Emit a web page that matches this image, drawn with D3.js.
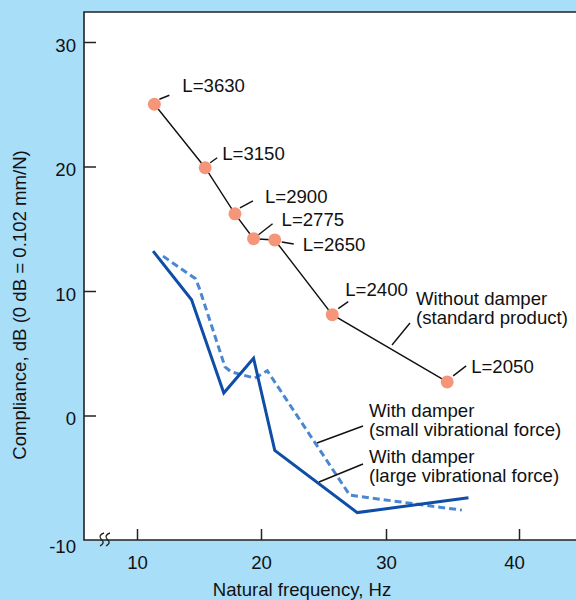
<!DOCTYPE html>
<html>
<head>
<meta charset="utf-8">
<script src="https://cdn.jsdelivr.net/npm/d3@7"></script>
<style>
  body { margin: 0; }
  svg { display: block; font-family: "Liberation Sans", Arial, sans-serif; }
</style>
</head>
<body>
<svg id="chart" width="576" height="600"></svg>
<script>
// data
const xTicks = [10, 20, 30, 40];
const yTicks = [-10, 0, 10, 20, 30];

const lengthLabels = ["L=3630", "L=3150", "L=2900", "L=2775", "L=2650", "L=2400", "L=2050"];
const freqStandard = [11.4, 15.5, 17.9, 19.4, 21.1, 25.7, 34.6];
const compStandard = [25.0, 19.9, 16.2, 14.2, 14.1, 8.1, 2.7];

const freqSmall = [12.1, 14.7, 15.0, 17.1, 17.6, 19.5, 20.5, 27.1, 35.7];
const compSmall = [12.8, 11.0, 10.3, 3.9, 3.5, 3.0, 3.6, -6.4, -7.6];

const freqLarge = [11.3, 14.4, 17.0, 19.4, 21.1, 27.7, 36.2];
const compLarge = [13.2, 9.3, 1.8, 4.6, -2.8, -7.8, -6.6];

// label placement (pixel offsets from each dot): leader start, leader end, text
const labelOffsets = [
  [5, -5, 15, -9, 28, -12],
  [5, -5, 12, -10, 17, -8],
  [5, -6, 18, -13, 30, -11],
  [5, -4, 19, -15, 28, -13],
  [7, 2, 19, 4, 28, 11],
  [6, -6, 16, -13, 13, -19],
  [6, -6, 19, -16, 24, -9]
];

const fontSize = 18.6;

const svg = d3.select("#chart");
const width = +svg.attr("width");
const height = +svg.attr("height");
const plotLeft = 84, plotTop = 12, plotBottom = 540;

const x = d3.scaleLinear().domain(xTicks).range([137, 261, 386, 519]);
const y = d3.scaleLinear().domain([-10, 30]).range([plotBottom, 42]);

svg.append("rect").attr("width", width).attr("height", height).attr("fill", "#a9def9");
svg.append("rect")
  .attr("x", plotLeft).attr("y", plotTop)
  .attr("width", width - plotLeft).attr("height", plotBottom - plotTop)
  .attr("fill", "#fff");

// axes
const xAxis = svg.append("g")
  .attr("transform", `translate(0,${plotBottom})`)
  .call(d3.axisBottom(x).tickValues(xTicks).tickSizeInner(-11).tickSizeOuter(0).tickPadding(16));
const yAxis = svg.append("g")
  .attr("transform", `translate(${plotLeft},0)`)
  .call(d3.axisLeft(y).tickValues(yTicks).tickFormat((d) => String(d))
    .tickSizeInner(-12).tickSizeOuter(0).tickPadding(8));

[xAxis, yAxis].forEach((g) => {
  g.select(".domain").remove();
  g.selectAll("line").attr("stroke", "#222").attr("stroke-width", 1.5);
  g.selectAll("text").attr("font-size", fontSize).attr("fill", "#111")
    .attr("font-family", "'Liberation Sans', Arial, sans-serif");
});
yAxis.selectAll("text").attr("dy", "0.5em");
yAxis.selectAll(".tick").filter((d) => d === -10).select("text").attr("dy", "0.65em");
yAxis.selectAll(".tick").filter((d) => d === -10).select("line").remove();
xAxis.selectAll("text").attr("dy", "0.72em");
xAxis.selectAll(".tick").filter((d) => d === 40).select("text").attr("dx", -5);

// frame
svg.append("path")
  .attr("d", `M${width},${plotTop}H${plotLeft}V${plotBottom}H${width}`)
  .attr("fill", "none").attr("stroke", "#222").attr("stroke-width", 1.6);

// axis break mark
[101, 107].forEach((bx) => {
  svg.append("path")
    .attr("d", `M${bx + 3},533 c-4,1 -5,4 -3,6 s4,4 -1,7`)
    .attr("fill", "none").attr("stroke", "#222").attr("stroke-width", 1.3);
});

const line = d3.line().x((d) => x(d[0])).y((d) => y(d[1]));

// with damper, small force (dashed)
svg.append("path")
  .datum(d3.zip(freqSmall, compSmall))
  .attr("d", line)
  .attr("fill", "none").attr("stroke", "#4a87d2").attr("stroke-width", 3)
  .attr("stroke-dasharray", "7,4");

// with damper, large force (solid)
svg.append("path")
  .datum(d3.zip(freqLarge, compLarge))
  .attr("d", line)
  .attr("fill", "none").attr("stroke", "#0e4ea7").attr("stroke-width", 3)
  .attr("stroke-linejoin", "miter");

// without damper
const standard = d3.zip(freqStandard, compStandard);
svg.append("path")
  .datum(standard)
  .attr("d", line)
  .attr("fill", "none").attr("stroke", "#111").attr("stroke-width", 1.4);

svg.selectAll("circle.pt")
  .data(standard)
  .enter()
  .append("circle")
  .attr("class", "pt")
  .attr("cx", (d) => x(d[0]))
  .attr("cy", (d) => y(d[1]))
  .attr("r", 6.5)
  .attr("fill", "#f5967a");

standard.forEach((d, i) => {
  const o = labelOffsets[i];
  const cx = x(d[0]), cy = y(d[1]);
  svg.append("line")
    .attr("x1", cx + o[0]).attr("y1", cy + o[1])
    .attr("x2", cx + o[2]).attr("y2", cy + o[3])
    .attr("stroke", "#111").attr("stroke-width", 1.4);
  svg.append("text")
    .attr("x", cx + o[4]).attr("y", cy + o[5])
    .attr("font-size", fontSize).attr("fill", "#111")
    .text(lengthLabels[i]);
});

// series callouts
const callouts = [
  { lines: ["Without damper", "(standard product)"], tx: 416, ty: 305, from: [392, 345], to: [410, 323] },
  { lines: ["With damper", "(small vibrational force)"], tx: 369, ty: 417, from: [317, 443], to: [363, 426] },
  { lines: ["With damper", "(large vibrational force)"], tx: 369, ty: 463, from: [319, 482], to: [363, 464] }
];
callouts.forEach((c) => {
  svg.append("line")
    .attr("x1", c.from[0]).attr("y1", c.from[1])
    .attr("x2", c.to[0]).attr("y2", c.to[1])
    .attr("stroke", "#111").attr("stroke-width", 1.4);
  const t = svg.append("text").attr("font-size", fontSize).attr("fill", "#111");
  c.lines.forEach((s, k) => {
    t.append("tspan").attr("x", c.tx).attr("y", c.ty + k * 19).text(s);
  });
});

// axis titles
svg.append("text")
  .attr("x", 302).attr("y", 596)
  .attr("text-anchor", "middle")
  .attr("font-size", fontSize).attr("fill", "#111")
  .text("Natural frequency, Hz");

svg.append("text")
  .attr("transform", "translate(26,305) rotate(-90)")
  .attr("text-anchor", "middle")
  .attr("font-size", fontSize).attr("fill", "#111")
  .text("Compliance, dB (0 dB = 0.102 mm/N)");
</script>
</body>
</html>
